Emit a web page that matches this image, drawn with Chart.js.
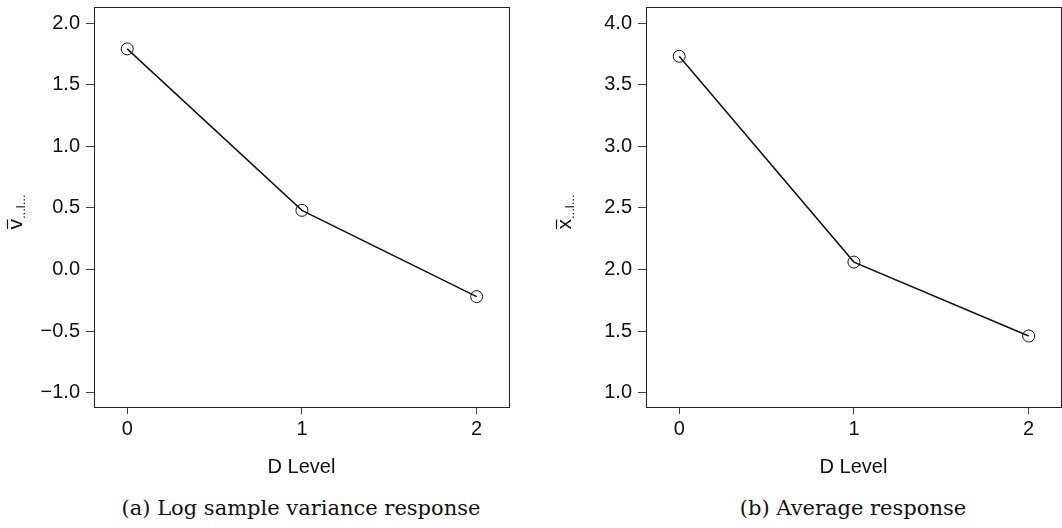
<!DOCTYPE html>
<html>
<head>
<meta charset="utf-8">
<script src="https://cdn.jsdelivr.net/npm/chart.js@4"></script>
<style>
  body { margin: 0; background: #fff; width: 1062px; height: 528px; position: relative; overflow: hidden; }
  .panel { position: absolute; top: 0; width: 531px; height: 485px; }
  .cap { position: absolute; top: 496px; width: 500px; text-align: center; white-space: nowrap;
         font-family: 'DejaVu Serif', 'Liberation Serif', serif; font-size: 21px; color: #111; }
</style>
</head>
<body>
<div class="panel" style="left:0"><canvas id="chartA"></canvas></div>
<div class="panel" style="left:531px"><canvas id="chartB"></canvas></div>
<div class="cap" style="left:51px">(a) Log sample variance response</div>
<div class="cap" style="left:603px">(b) Average response</div>

<script>
// data
const dLevels = [0, 1, 2];
const logVarMeans = [1.79, 0.48, -0.22];
const avgMeans = [3.73, 2.06, 1.46];
const xTicks = [0, 1, 2];
const yTicksA = [-1.0, -0.5, 0.0, 0.5, 1.0, 1.5, 2.0];
const yTicksB = [1.0, 1.5, 2.0, 2.5, 3.0, 3.5, 4.0];

Chart.defaults.font.family = "'Liberation Sans', Arial, Helvetica, sans-serif";
Chart.defaults.color = '#111';

const fmt = v => (v < 0 ? '\u2212' : '') + Math.abs(v).toFixed(1);

// frame round the plot area + rotated y label (letter with bar and subscript)
const framePlugin = {
    id: 'frame',
    afterDraw(chart, args, opts) {
        const { ctx, chartArea: a } = chart;
        ctx.save();
        ctx.strokeStyle = '#222';
        ctx.lineWidth = 1;
        ctx.strokeRect(Math.round(a.left) + 0.5, Math.round(a.top) + 0.5,
            Math.round(a.right - a.left), Math.round(a.bottom - a.top));

        ctx.translate(opts.labelX, (a.top + a.bottom) / 2 + 5);
        ctx.rotate(-Math.PI / 2);
        ctx.fillStyle = '#111';
        ctx.textBaseline = 'alphabetic';
        const big = "21px 'Liberation Sans', Arial, sans-serif";
        const small = "13px 'Liberation Sans', Arial, sans-serif";
        ctx.font = big;
        const wMain = ctx.measureText(opts.letter).width;
        ctx.font = small;
        const wSub = ctx.measureText('...l...').width;
        const x0 = -(wMain + wSub) / 2;
        ctx.font = big;
        ctx.fillText(opts.letter, x0, 0);
        ctx.beginPath();
        ctx.lineWidth = 1.2;
        ctx.strokeStyle = '#111';
        ctx.moveTo(x0 + 0.5, -14.5);
        ctx.lineTo(x0 + wMain - 0.5, -14.5);
        ctx.stroke();
        ctx.font = small;
        ctx.fillText('...l...', x0 + wMain, 3);
        ctx.restore();
    }
};

function makeChart(id, values, yTicks, yMin, yMax, yWidth, padRight, letter, labelX) {
    const ctx = document.getElementById(id).getContext('2d');
    return new Chart(ctx, {
        type: 'line',
        data: {
            datasets: [{
                data: dLevels.map((d, i) => ({ x: d, y: values[i] })),
                borderColor: '#111',
                borderWidth: 1.5,
                tension: 0,
                fill: false,
                pointStyle: 'circle',
                pointRadius: 6,
                pointBorderWidth: 1,
                pointBorderColor: '#111',
                pointBackgroundColor: 'rgba(0,0,0,0)'
            }]
        },
        options: {
            responsive: true,
            maintainAspectRatio: false,
            animation: false,
            layout: { autoPadding: false, padding: { top: 7, right: padRight, bottom: 0, left: 0 } },
            plugins: {
                legend: { display: false },
                tooltip: { enabled: false },
                frame: { letter: letter, labelX: labelX }
            },
            scales: {
                x: {
                    type: 'linear',
                    min: -0.19,
                    max: 2.185,
                    afterBuildTicks: s => { s.ticks = xTicks.map(v => ({ value: v })); },
                    afterFit: s => { s.height = 78; s.paddingLeft = 0; s.paddingRight = 0; },
                    grid: { drawOnChartArea: false, drawTicks: true, tickLength: 7, color: '#444' },
                    border: { display: false },
                    ticks: { padding: 3, font: { size: 20 }, callback: v => String(v) },
                    title: { display: true, text: 'D Level', font: { size: 20 }, padding: { top: 0, bottom: 6 } }
                },
                y: {
                    min: yMin,
                    max: yMax,
                    afterBuildTicks: s => { s.ticks = yTicks.map(v => ({ value: v })); },
                    afterFit: s => { s.width = yWidth; s.paddingTop = 0; s.paddingBottom = 0; },
                    grid: { drawOnChartArea: false, drawTicks: true, tickLength: 8, color: '#444' },
                    border: { display: false },
                    ticks: { padding: 6, font: { size: 20 }, callback: v => fmt(v) }
                }
            }
        },
        plugins: [framePlugin]
    });
}

makeChart('chartA', logVarMeans, yTicksA, -1.116, 2.13, 94, 22, 'v', 22);
makeChart('chartB', avgMeans, yTicksB, 0.884, 4.13, 115, 1, 'x', 40);
</script>
</body>
</html>
